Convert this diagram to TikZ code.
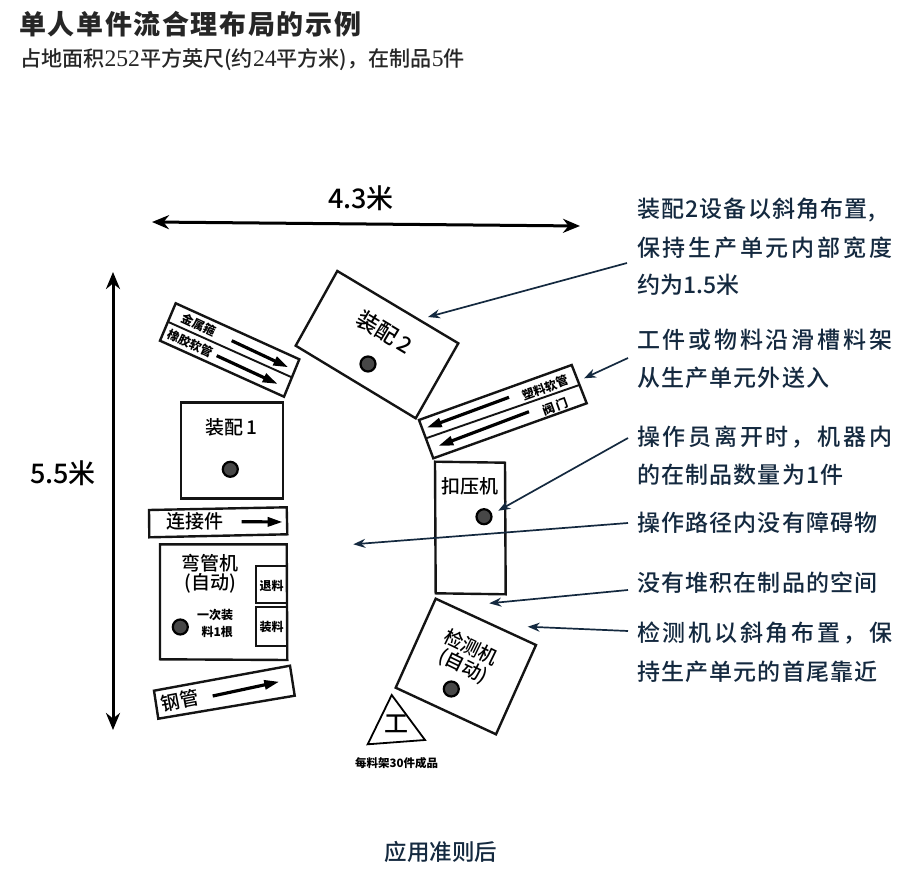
\documentclass[tikz,border=0pt]{standalone}
\usepackage{fontspec}
\setmainfont{Noto Sans CJK SC}[UprightFont=* Medium]
\newfontfamily\notewide[LetterSpace=12,UprightFont=* Medium]{Noto Sans CJK SC}
\newfontfamily\notenarrow[LetterSpace=5,UprightFont=* Medium]{Noto Sans CJK SC}
\newfontfamily\titlefont[LetterSpace=6]{Noto Sans CJK SC}
\newfontfamily\digitfont[Scale=1.12]{Liberation Serif}
\usetikzlibrary{arrows.meta}
\definecolor{inkblue}{HTML}{14293F}
\definecolor{tipblue}{HTML}{1D4FA8}
\tikzset{
  box/.style={draw=black!92,line width=2.4pt,fill=white,line join=miter},
  thin box/.style={draw=black!92,line width=1.9pt},
  flow/.style={draw=black,line width=3.2pt,-{Triangle[length=15pt,width=9pt]}},
  dim/.style={draw=black,line width=3pt,{Stealth[length=17pt,width=14pt]}-{Stealth[length=17pt,width=14pt]}},
  note/.style={draw=inkblue,line width=1.7pt,-{Stealth[length=12pt,width=9pt,fill=tipblue]}},
  opdot/.style={circle,draw=black,line width=2.2pt,fill=black!72,minimum size=15pt,inner sep=0pt},
  lab/.style={inner sep=0pt,font=\fontsize{19}{21}\selectfont},
  tiny/.style={inner sep=0pt,font=\bfseries\fontsize{12}{14}\selectfont},
  say/.style={inner sep=0pt,anchor=west,text=inkblue,font=\fontsize{23}{25}\selectfont}
}
\begin{document}
\begin{tikzpicture}[x=1pt,y=-1pt]
\useasboundingbox (0,0) rectangle (922,877);
\fill[white] (0,0) rectangle (922,877);
% titles
\node[inner sep=0pt,anchor=west,font=\fontsize{27}{30}\selectfont\titlefont\bfseries,text=black!85] (title) at (19,24) {单人单件流合理布局的示例};
\node[inner sep=0pt,anchor=west,font=\fontsize{21.1}{24}\selectfont,text=black!85] (sub) at (20,60) {占地面积{\digitfont 252}平方英尺(约{\digitfont 24}平方米)，在制品{\digitfont 5}件};
\node[inner sep=0pt,font=\fontsize{22.5}{25}\selectfont,text=inkblue] (foot) at (441,852) {应用准则后};
% dimensions
\coordinate (h1) at (152,222); \coordinate (h2) at (580,226);
\draw[dim] (h1) -- (h2);
\node[inner sep=0pt,font=\fontsize{27}{29}\selectfont] (hl) at (361,198) {4.3米};
\coordinate (v1) at (113,272); \coordinate (v2) at (113,730);
\draw[dim] (v1) -- (v2);
\node[inner sep=0pt,font=\fontsize{27}{29}\selectfont] (vl) at (63,473) {5.5米};
% left strip
\draw[box] (175.7,303.3) -- (299.3,359.3) -- (284,396.7) -- (160,340.7) -- cycle;
\draw[thin box] (167.7,321.7) -- (291.7,377.3);
\draw[flow] (231.7,340.7) -- (288.3,367.3);
\draw[flow] (216.7,355.7) -- (277.7,384);
\node[tiny,rotate=-25] (s1) at (199,325) {金属箍};
\node[tiny,rotate=-25] (s2) at (190.7,343) {橡胶软管};
% assembly 2
\draw[box] (337.3,271) -- (458.3,343.3) -- (415.7,418.3) -- (295.7,345.7) -- cycle;
\node[inner sep=0pt,rotate=-31,font=\fontsize{22}{24}\selectfont] (a2) at (385,332) {装配\,2};
\node[opdot] (d2) at (368,364) {};
% assembly 1
\draw[box] (180.7,402.7) rectangle (282.7,498.7);
\node[lab] (a1) at (231,427) {装配\,1};
\node[opdot] (d1) at (230.3,469.3) {};
% connector strip
\draw[box] (149,510) -- (286.7,507.3) -- (287.3,534.3) -- (149.3,537.3) -- cycle;
\node[lab] (c) at (195,521) {连接件};
\draw[flow] (241.7,521.7) -- (282.7,522);
% bender
\draw[box] (160,544.3) -- (286.7,544.3) -- (287.3,660) -- (160,659.3) -- cycle;
\node[lab] (b1) at (210,562.7) {弯管机};
\node[lab] (b2) at (210,583.3) {(自动)};
\draw[thin box] (286.7,565.7) -- (256,565.7) -- (256,603.3) -- (286.7,603.3);
\draw[thin box] (286.7,607.3) -- (256,607.3) -- (256,646) -- (286.7,646);
\node[tiny] (t) at (271.7,585.7) {退料};
\node[tiny] (z) at (271.7,626.7) {装料};
\node[tiny] (y1) at (215,615) {一次装};
\node[tiny] (y2) at (217.3,631.7) {料1根};
\node[opdot] (d3) at (180.3,627) {};
% pipe
\draw[box] (154,690.7) -- (290,665.7) -- (294.7,695.7) -- (158.3,718.7) -- cycle;
\node[lab,rotate=11] (g) at (180,700.5) {钢管};
\draw[flow] (212.7,696) -- (279.3,681.7);
% right strip
\draw[box] (419,420) -- (571.7,365) -- (586.7,403.3) -- (433.3,458.3) -- cycle;
\draw[thin box] (426,438.3) -- (579.3,385);
\draw[flow] (509,397.3) -- (426.7,427.7);
\draw[flow] (529,411.7) -- (438.3,446);
\node[tiny,rotate=20] (r1) at (545,387.7) {塑料软管};
\node[tiny,rotate=20] (r2) at (555,406.7) {阀\,门};
% crimper
\draw[box] (435,461.7) -- (505,462.7) -- (505.7,594.3) -- (435.7,593.3) -- cycle;
\node[lab] (k) at (470,486) {扣压机};
\node[opdot] (d4) at (484,516.7) {};
% tester
\draw[box] (435.7,598.7) -- (536,645) -- (496,734.3) -- (395.7,687.7) -- cycle;
\node[lab,rotate=-26] (j1) at (471,647) {检测机};
\node[lab,rotate=-26] (j2) at (463,666.5) {(自动)};
\node[opdot] (d5) at (451.3,689) {};
% triangle
\draw[draw=black,line width=1.8pt] (391.7,695) -- (425,740) -- (367.7,744.3) -- cycle;
\node[inner sep=0pt,font=\fontsize{24}{26}\selectfont] (w) at (396.7,724) {工};
\node[tiny,font=\bfseries\fontsize{11.5}{13}\selectfont] (cap) at (396.7,762.7) {每料架30件成品};
% notes
\node[say] (n1a) at (637,210) {\notenarrow 装配2设备以斜角布置,};
\node[say] (n1b) at (637,248) {\notewide 保持生产单元内部宽度};
\node[say] (n1c) at (637,285) {约为1.5米};
\node[say] (n2a) at (637,340) {\notewide 工件或物料沿滑槽料架};
\node[say] (n2b) at (637,378) {\notenarrow 从生产单元外送入};
\node[say] (n3a) at (637,437) {\notewide 操作员离开时，机器内};
\node[say] (n3b) at (637,475) {\notenarrow 的在制品数量为1件};
\node[say] (n4) at (637,523) {\notenarrow 操作路径内没有障碍物};
\node[say] (n5) at (637,583) {\notenarrow 没有堆积在制品的空间};
\node[say] (n6a) at (637,633) {\notewide 检测机以斜角布置，保};
\node[say] (n6b) at (637,672) {\notenarrow 持生产单元的首尾靠近};
\coordinate (p1) at (428,317); \coordinate (q1) at (627,263);
\coordinate (p2) at (584,378.3); \coordinate (q2) at (628,358);
\coordinate (p3) at (498.3,510.7); \coordinate (q3) at (628,438);
\coordinate (p4) at (353.3,544.3); \coordinate (q4) at (628,523);
\coordinate (p5) at (489.3,603.3); \coordinate (q5) at (628,590);
\coordinate (p6) at (527.7,626.7); \coordinate (q6) at (628,631);
\foreach \i in {1,...,6} \draw[note] (q\i) -- (p\i);
\end{tikzpicture}
\end{document}
